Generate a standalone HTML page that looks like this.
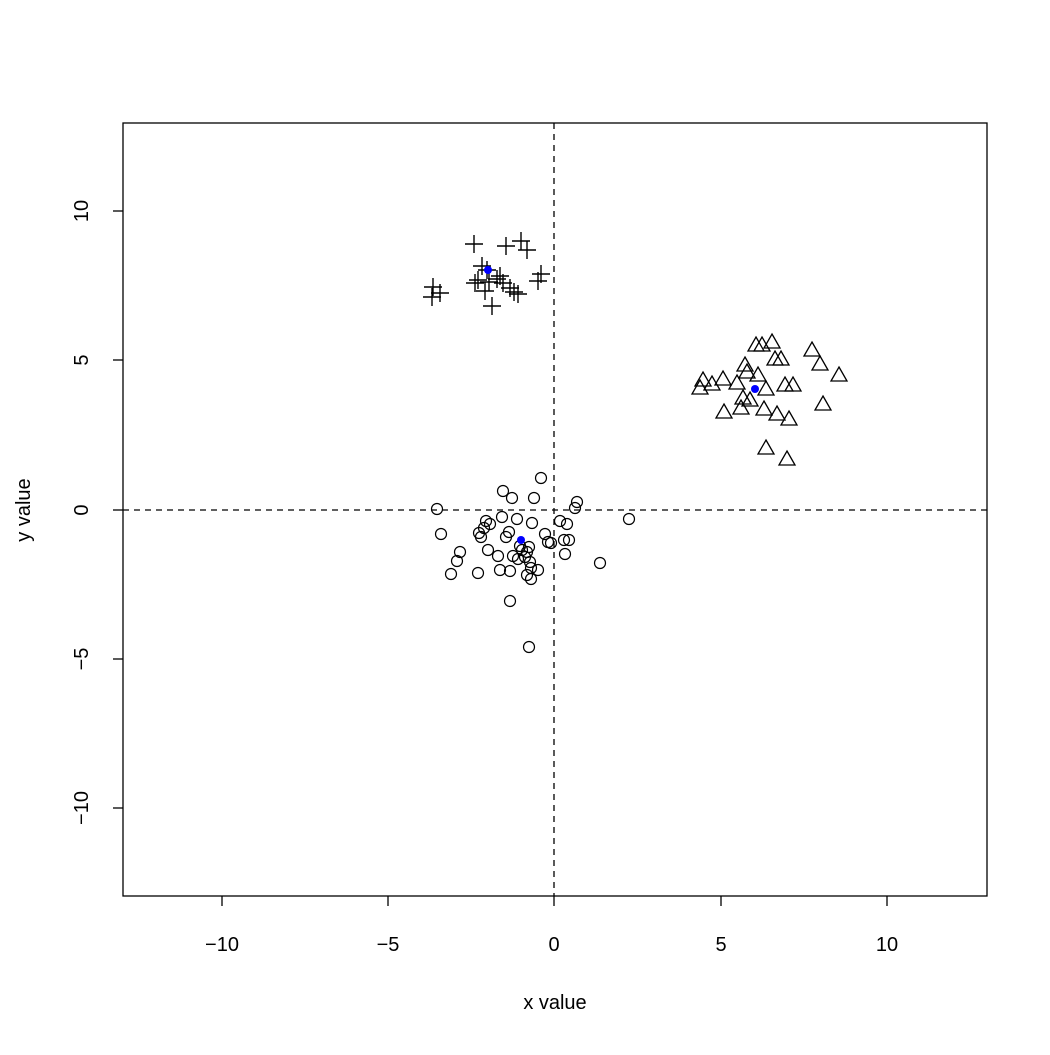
<!DOCTYPE html>
<html><head><style>body{margin:0;background:#fff}</style></head><body>
<svg width="1050" height="1050" xmlns="http://www.w3.org/2000/svg" font-family="Liberation Sans, sans-serif" font-size="20">
<rect x="0" y="0" width="1050" height="1050" fill="#fff"/>
<rect x="123" y="123" width="864" height="773" fill="none" stroke="#000" stroke-width="1.3"/>
<g stroke="#000" stroke-width="1.3">
<line x1="222" y1="896" x2="222" y2="906"/><line x1="388" y1="896" x2="388" y2="906"/><line x1="554" y1="896" x2="554" y2="906"/><line x1="721" y1="896" x2="721" y2="906"/><line x1="887" y1="896" x2="887" y2="906"/>
<line x1="113" y1="211" x2="123" y2="211"/><line x1="113" y1="360" x2="123" y2="360"/><line x1="113" y1="510" x2="123" y2="510"/><line x1="113" y1="659" x2="123" y2="659"/><line x1="113" y1="808" x2="123" y2="808"/>
</g>
<g text-anchor="middle">
<text x="222" y="951">−10</text><text x="388" y="951">−5</text><text x="554" y="951">0</text><text x="721" y="951">5</text><text x="887" y="951">10</text>
<text x="555" y="1009">x value</text>
</g>
<g text-anchor="middle">
<text transform="translate(88,211) rotate(-90)">10</text>
<text transform="translate(88,360) rotate(-90)">5</text>
<text transform="translate(88,510) rotate(-90)">0</text>
<text transform="translate(88,659) rotate(-90)">−5</text>
<text transform="translate(88,808) rotate(-90)">−10</text>
<text transform="translate(30,510) rotate(-90)">y value</text>
</g>
<g stroke="#000" stroke-width="1.3" stroke-dasharray="6,5">
<line x1="554" y1="123" x2="554" y2="896"/><line x1="123" y1="510" x2="987" y2="510"/>
</g>
<g id="plus" stroke="#000" stroke-width="1.4" fill="none"></g>
<g id="tri" stroke="#000" stroke-width="1.3" fill="none"></g>
<g id="circ" stroke="#000" stroke-width="1.2" fill="none"></g>
<g fill="#00f"><circle cx="488" cy="270" r="4"/><circle cx="755" cy="389" r="4"/><circle cx="521" cy="540" r="4"/></g>
</svg>
<script>
var ns="http://www.w3.org/2000/svg";
function add(id,tag,attrs){var e=document.createElementNS(ns,tag);for(var k in attrs)e.setAttribute(k,attrs[k]);document.getElementById(id).appendChild(e);}
var P=[[474,244],[506,246],[521,241],[527,250],[482,266],[487,270],[478,280],[497,279],[503,283],[500,276],[510,288],[514,292],[518,294],[541,274],[538,281],[433,287],[440,293],[432,297],[492,306],[485,291],[475,283],[489,282]];
P.forEach(function(p){add("plus","path",{d:"M"+(p[0]-9)+" "+p[1]+"h18M"+p[0]+" "+(p[1]-9)+"v18"});});
var T=[[756,345],[762,345],[772,342],[812,350],[745,365],[747,372],[758,375],[775,359],[781,359],[820,364],[839,375],[703,380],[712,384],[723,379],[737,383],[743,398],[750,400],[766,389],[785,385],[793,385],[700,388],[741,408],[764,409],[777,414],[789,419],[823,404],[724,412],[766,448],[787,459]];
T.forEach(function(p){var x=p[0],y=p[1];add("tri","path",{d:"M"+x+" "+(y-8)+"L"+(x+8)+" "+(y+6)+"L"+(x-8)+" "+(y+6)+"Z"});});
var C=[[541,478],[503,491],[512,498],[534,498],[577,502],[575,508],[437,509],[441,534],[502,517],[532,523],[486,521],[490,524],[479,533],[484,528],[481,537],[560,521],[567,524],[545,534],[548,542],[551,543],[564,540],[569,540],[509,532],[506,537],[522,550],[527,552],[525,557],[529,547],[488,550],[460,552],[457,561],[498,556],[513,556],[518,559],[530,562],[565,554],[600,563],[451,574],[629,519],[478,573],[500,570],[510,571],[531,568],[538,570],[527,575],[531,579],[510,601],[529,647],[517,519],[520,546]];
C.forEach(function(p){add("circ","circle",{cx:p[0],cy:p[1],r:5.5});});
</script>
</body></html>
